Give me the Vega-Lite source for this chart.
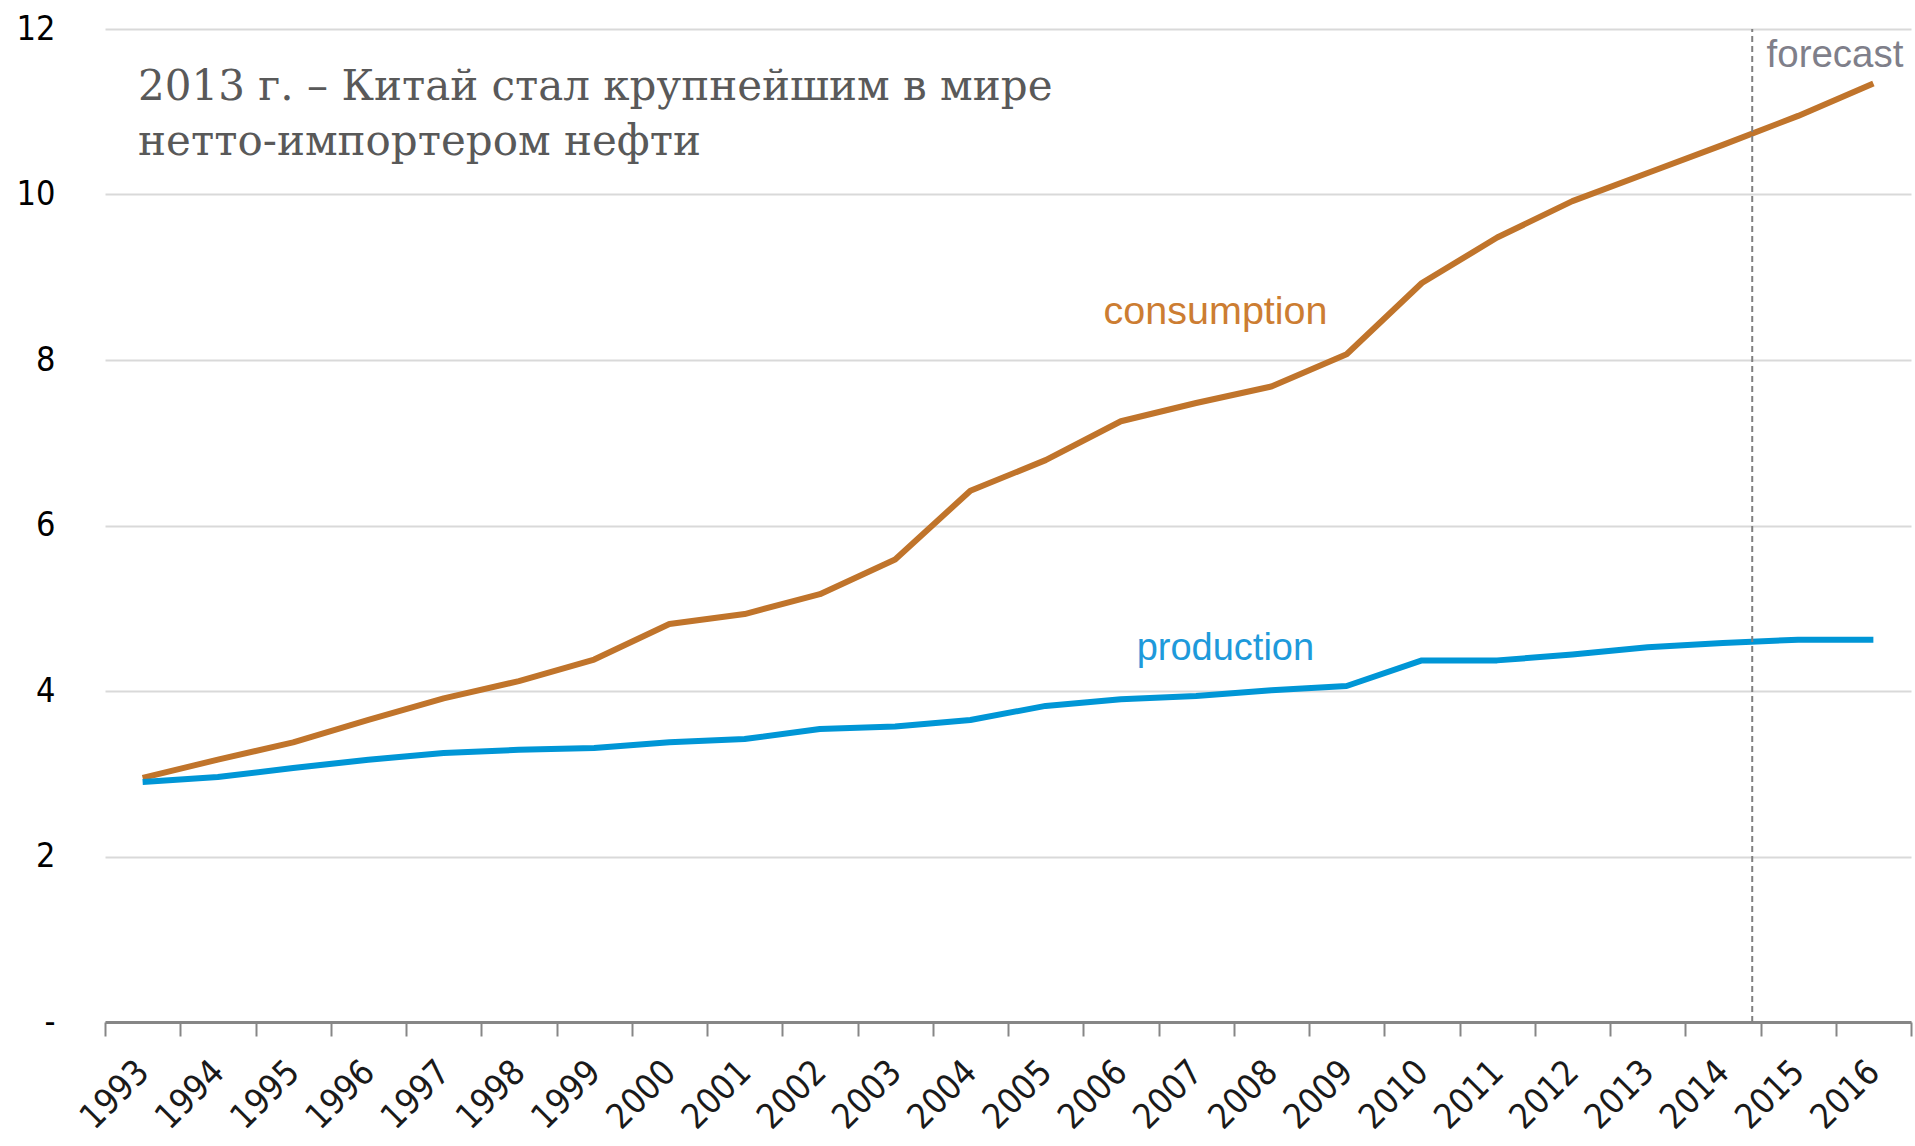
{
  "$schema": "https://vega.github.io/schema/vega-lite/v6.json",
  "autosize": {"type": "none"},
  "width": 1806,
  "height": 993,
  "padding": {"left": 105, "top": 29, "right": 4, "bottom": 124},
  "background": "white",
  "config": {"view": {"stroke": null}},
  "datasets": {
    "oil": [
      {"year": "1993", "series": "consumption", "value": 2.95},
      {"year": "1994", "series": "consumption", "value": 3.17},
      {"year": "1995", "series": "consumption", "value": 3.38},
      {"year": "1996", "series": "consumption", "value": 3.65},
      {"year": "1997", "series": "consumption", "value": 3.91},
      {"year": "1998", "series": "consumption", "value": 4.12},
      {"year": "1999", "series": "consumption", "value": 4.38},
      {"year": "2000", "series": "consumption", "value": 4.81},
      {"year": "2001", "series": "consumption", "value": 4.93},
      {"year": "2002", "series": "consumption", "value": 5.17},
      {"year": "2003", "series": "consumption", "value": 5.59},
      {"year": "2004", "series": "consumption", "value": 6.42},
      {"year": "2005", "series": "consumption", "value": 6.79},
      {"year": "2006", "series": "consumption", "value": 7.26},
      {"year": "2007", "series": "consumption", "value": 7.48},
      {"year": "2008", "series": "consumption", "value": 7.68},
      {"year": "2009", "series": "consumption", "value": 8.07},
      {"year": "2010", "series": "consumption", "value": 8.93},
      {"year": "2011", "series": "consumption", "value": 9.48},
      {"year": "2012", "series": "consumption", "value": 9.92},
      {"year": "2013", "series": "consumption", "value": 10.26},
      {"year": "2014", "series": "consumption", "value": 10.6},
      {"year": "2015", "series": "consumption", "value": 10.95},
      {"year": "2016", "series": "consumption", "value": 11.34},
      {"year": "1993", "series": "production", "value": 2.9},
      {"year": "1994", "series": "production", "value": 2.96},
      {"year": "1995", "series": "production", "value": 3.07},
      {"year": "1996", "series": "production", "value": 3.17},
      {"year": "1997", "series": "production", "value": 3.25},
      {"year": "1998", "series": "production", "value": 3.29},
      {"year": "1999", "series": "production", "value": 3.31},
      {"year": "2000", "series": "production", "value": 3.38},
      {"year": "2001", "series": "production", "value": 3.42},
      {"year": "2002", "series": "production", "value": 3.54},
      {"year": "2003", "series": "production", "value": 3.57},
      {"year": "2004", "series": "production", "value": 3.65},
      {"year": "2005", "series": "production", "value": 3.82},
      {"year": "2006", "series": "production", "value": 3.9},
      {"year": "2007", "series": "production", "value": 3.94},
      {"year": "2008", "series": "production", "value": 4.01},
      {"year": "2009", "series": "production", "value": 4.06},
      {"year": "2010", "series": "production", "value": 4.37},
      {"year": "2011", "series": "production", "value": 4.37},
      {"year": "2012", "series": "production", "value": 4.44},
      {"year": "2013", "series": "production", "value": 4.53},
      {"year": "2014", "series": "production", "value": 4.58},
      {"year": "2015", "series": "production", "value": 4.62},
      {"year": "2016", "series": "production", "value": 4.62}
    ]
  },
  "layer": [
    {
      "data": {"name": "oil"},
      "mark": {"type": "line", "strokeWidth": 6, "strokeCap": "butt", "strokeJoin": "round"},
      "encoding": {
        "x": {
          "field": "year", "type": "ordinal",
          "scale": {"type": "band", "paddingInner": 0, "paddingOuter": 0,
            "domain": ["1993","1994","1995","1996","1997","1998","1999","2000","2001","2002","2003","2004","2005","2006","2007","2008","2009","2010","2011","2012","2013","2014","2015","2016"]},
          "axis": {
            "title": null,
            "tickBand": "extent",
            "domainColor": "#868686", "domainWidth": 3,
            "tickColor": "#868686", "tickWidth": 2, "tickSize": 14,
            "labelAngle": -45, "labelPadding": 18, "labelOffset": -12,
            "labelFont": "DejaVu Sans Condensed, Liberation Sans, sans-serif", "labelFontSize": 35, "labelColor": "#1a1a1a",
            "grid": false
          }
        },
        "y": {
          "field": "value", "type": "quantitative",
          "scale": {"domain": [0, 12], "nice": false, "zero": true},
          "axis": {
            "title": null,
            "values": [0, 2, 4, 6, 8, 10, 12],
            "format": "d",
            "labelExpr": "datum.value == 0 ? '-' : datum.label",
            "domain": false, "ticks": false, "labelPadding": 50,
            "labelFont": "DejaVu Sans Condensed, Liberation Sans, sans-serif", "labelFontSize": 34, "labelColor": "#000000",
            "grid": true, "gridColor": "#d9d9d9", "gridWidth": 2
          }
        },
        "color": {
          "field": "series", "type": "nominal",
          "scale": {"domain": ["consumption", "production"], "range": ["#C0742B", "#0096D6"]},
          "legend": null
        }
      }
    },
    {
      "data": {"values": [{"year": "2014", "lo": 0, "hi": 12}]},
      "mark": {"type": "rule", "color": "#808080", "strokeWidth": 2, "strokeDash": [6, 4]},
      "encoding": {
        "x": {"field": "year", "type": "ordinal", "bandPosition": 0.89},
        "y": {"field": "lo", "type": "quantitative"},
        "y2": {"field": "hi"}
      }
    },
    {
      "data": {"values": [
        {"year": "1993", "value": 11.14, "label": "2013 г. – Китай стал крупнейшим в мире\nнетто-импортером нефти"}
      ]},
      "mark": {"type": "text", "align": "left", "baseline": "alphabetic", "font": "DejaVu Serif", "fontSize": 42, "color": "#595959", "lineBreak": "\n", "lineHeight": 55},
      "encoding": {
        "x": {"field": "year", "type": "ordinal", "bandPosition": 0.44},
        "y": {"field": "value", "type": "quantitative"},
        "text": {"field": "label"}
      }
    },
    {
      "data": {"values": [
        {"year": "2006", "value": 8.43, "label": "consumption", "c": "c"},
        {"year": "2006", "value": 4.37, "label": "production", "c": "p"}
      ]},
      "layer": [
        {
          "transform": [{"filter": "datum.c == 'c'"}],
          "mark": {"type": "text", "align": "left", "baseline": "alphabetic", "font": "Liberation Sans", "fontSize": 39.5, "color": "#CC7D32"},
          "encoding": {
            "x": {"field": "year", "type": "ordinal", "bandPosition": 0.27},
            "y": {"field": "value", "type": "quantitative"},
            "text": {"field": "label"}
          }
        },
        {
          "transform": [{"filter": "datum.c == 'p'"}],
          "mark": {"type": "text", "align": "left", "baseline": "alphabetic", "font": "Liberation Sans", "fontSize": 38, "color": "#1E9ADB"},
          "encoding": {
            "x": {"field": "year", "type": "ordinal", "bandPosition": 0.71},
            "y": {"field": "value", "type": "quantitative"},
            "text": {"field": "label"}
          }
        }
      ]
    },
    {
      "data": {"values": [{"year": "2015", "value": 11.54, "label": "forecast"}]},
      "mark": {"type": "text", "align": "left", "baseline": "alphabetic", "font": "Liberation Sans", "fontSize": 38.5, "color": "#7F7F8A"},
      "encoding": {
        "x": {"field": "year", "type": "ordinal", "bandPosition": 0.08},
        "y": {"field": "value", "type": "quantitative"},
        "text": {"field": "label"}
      }
    }
  ]
}
